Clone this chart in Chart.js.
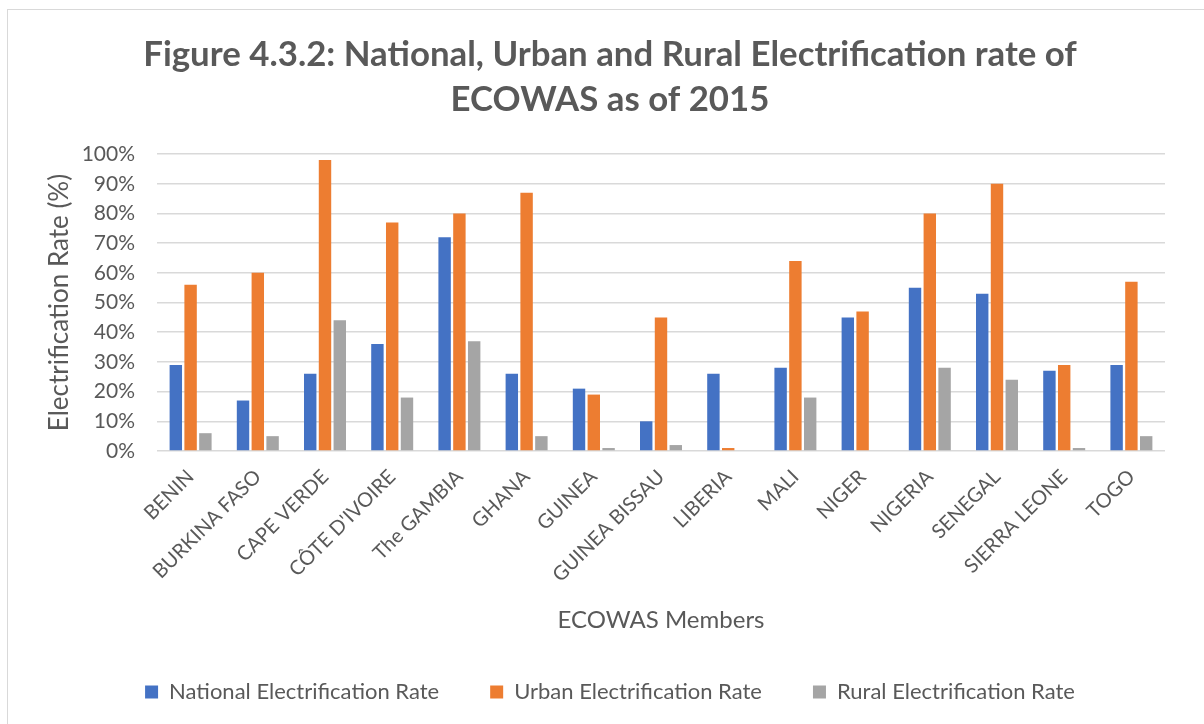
<!DOCTYPE html>
<html>
<head>
<meta charset="utf-8">
<script src="https://cdn.jsdelivr.net/npm/chart.js@4.4.1/dist/chart.umd.min.js"></script>
<style>
  html, body { margin: 0; padding: 0; background: #ffffff; }
  #wrap { position: relative; width: 1204px; height: 724px; overflow: hidden; }
  #frame { position: absolute; left: 7px; top: 9px; width: 1220px; height: 740px; border: 1px solid #d9d9d9; box-sizing: border-box; }
  canvas { position: absolute; left: 0; top: 0; }
</style>
</head>
<body>
<div id="wrap">
  <div id="frame"></div>
  <canvas id="chart" width="1204" height="724"></canvas>
</div>
<script>
// ECOWAS member states
const countries = ["BENIN", "BURKINA FASO", "CAPE VERDE", "CÔTE D'IVOIRE", "The GAMBIA", "GHANA", "GUINEA",
  "GUINEA BISSAU", "LIBERIA", "MALI", "NIGER", "NIGERIA", "SENEGAL", "SIERRA LEONE", "TOGO"];

// Electrification rates in 2015 (%)
const nationalRate = [29, 17, 26, 36, 72, 26, 21, 10, 26, 28, 45, 55, 53, 27, 29];
const urbanRate    = [56, 60, 98, 77, 80, 87, 19, 45, 1, 64, 47, 80, 90, 29, 57];
const ruralRate    = [6, 5, 44, 18, 37, 5, 1, 2, 0, 18, 0, 28, 24, 1, 5];

// Y axis ticks
const yTicks = [0, 10, 20, 30, 40, 50, 60, 70, 80, 90, 100];

const FONT = "Lato, 'Open Sans', sans-serif";
const GREY_TEXT = "#595959";

new Chart(document.getElementById("chart"), {
  type: "bar",
  data: {
    labels: countries,
    datasets: [
      { label: "National Electrification Rate", data: nationalRate, backgroundColor: "#4472C4" },
      { label: "Urban Electrification Rate", data: urbanRate, backgroundColor: "#ED7D31" },
      { label: "Rural Electrification Rate", data: ruralRate, backgroundColor: "#A5A5A5" }
    ]
  },
  options: {
    responsive: false,
    animation: false,
    devicePixelRatio: 1,
    layout: { padding: { left: 55, right: 39, top: 33, bottom: 11 } },
    datasets: { bar: { categoryPercentage: 0.66, barPercentage: 0.84 } },
    plugins: {
      title: {
        display: true,
        text: ["Figure 4.3.2: National, Urban and Rural Electrification rate of", "ECOWAS as of 2015"],
        color: GREY_TEXT,
        font: { family: FONT, size: 34.8, weight: "bold", lineHeight: 1.28 },
        padding: { top: 0, bottom: 32 }
      },
      legend: {
        position: "bottom",
        labels: {
          color: GREY_TEXT,
          font: { family: FONT, size: 22 },
          boxWidth: 13,
          boxHeight: 13,
          padding: 51
        }
      },
      tooltip: { enabled: false }
    },
    scales: {
      x: {
        grid: { display: false, drawTicks: false },
        border: { display: false },
        ticks: {
          color: GREY_TEXT,
          font: { family: FONT, size: 20 },
          maxRotation: 45,
          minRotation: 45,
          autoSkip: false,
          padding: 14
        },
        title: {
          display: true,
          text: "ECOWAS Members",
          color: GREY_TEXT,
          font: { family: FONT, size: 24, lineHeight: 1.2 },
          padding: { top: 0, bottom: -5 }
        },
        afterFit: (scale) => { scale.height = 179; }
      },
      y: {
        min: 0,
        max: 100,
        afterBuildTicks: (scale) => { scale.ticks = yTicks.map(v => ({ value: v })); },
        grid: { color: "#d9d9d9", lineWidth: 1.5, drawTicks: false },
        border: { display: false },
        ticks: {
          color: GREY_TEXT,
          font: { family: FONT, size: 21 },
          padding: 22,
          callback: (v) => v + "%"
        },
        title: {
          display: true,
          text: "Electrification Rate (%)",
          color: GREY_TEXT,
          font: { family: FONT, size: 26, lineHeight: 1.2 },
          padding: { top: -11, bottom: 0 }
        },
        afterFit: (scale) => { scale.width = 102; }
      }
    }
  }
});
</script>
</body>
</html>
